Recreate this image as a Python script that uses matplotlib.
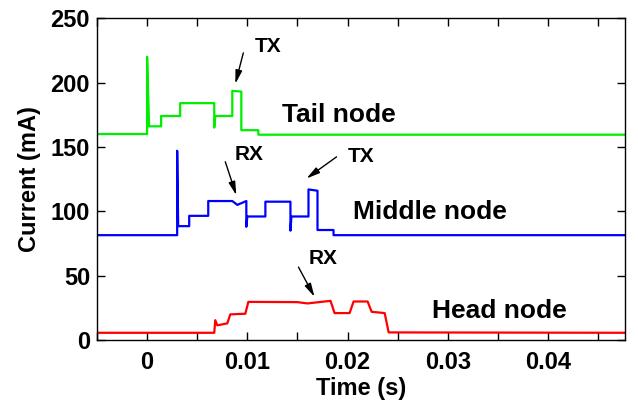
import numpy as np
import matplotlib.pyplot as plt
from matplotlib.ticker import MultipleLocator, FuncFormatter

# values (time in s, current in mA)
tail_t = [-0.005, 0.0, 0.0, 0.0002, 0.0014, 0.0014, 0.0033, 0.0033, 0.0067, 0.0067, 0.0068,
          0.0085, 0.0085, 0.0094, 0.0094, 0.0111, 0.0111, 0.048]
tail_i = [160, 160, 220, 166, 166, 174, 174, 184, 184, 165, 174,
          174, 193.5, 193, 163, 163, 159.5, 159.5]

mid_t = [-0.005, 0.0030, 0.0030, 0.0031, 0.0042, 0.0042, 0.0061, 0.0061, 0.0085, 0.0090, 0.0099,
         0.0099, 0.0100, 0.0118, 0.0118, 0.0143, 0.0143, 0.0144, 0.0161, 0.0161, 0.0170, 0.0170,
         0.0186, 0.0186, 0.048]
mid_i = [81.5, 81.5, 147, 88.5, 88.5, 96.5, 96.5, 108, 108, 105, 108,
         88, 96, 96, 107.5, 107.5, 85, 96, 96, 117, 116, 85.5,
         85.5, 81.5, 81.5]

head_t = [-0.005, 0.0067, 0.0068, 0.0070, 0.0080, 0.0083, 0.0098, 0.0101, 0.0150, 0.0160, 0.0183,
          0.0187, 0.0202, 0.0206, 0.0220, 0.0224, 0.0237, 0.0241, 0.048]
head_i = [5.7, 5.7, 15.5, 11.5, 13, 20, 20.5, 29.7, 29.5, 28.5, 30.5,
          21, 21, 30, 30, 22, 21, 6, 5.7]

# annotation labels: (text, text pos, arrow tail, arrow tip)
marks = [('TX', (0.01205, 228), (0.0096, 223), (0.0088, 199)),
         ('RX', (0.0102, 144.5), (0.0078, 138.5), (0.0089, 112.5)),
         ('TX', (0.0213, 142.5), (0.0189, 142.3), (0.0159, 125.5)),
         ('RX', (0.0176, 63.5), (0.0151, 56.7), (0.0167, 33.6))]
nodes = [('Tail node', 0.0135, 174.5), ('Middle node', 0.0205, 99.5), ('Head node', 0.0284, 22.5)]

plt.rcParams['font.family'] = ['Liberation Sans', 'DejaVu Sans']
plt.rcParams['font.weight'] = 'bold'

fig = plt.figure(figsize=(6.38, 4.03), dpi=100)
ax = fig.add_axes([0.152, 0.156, 0.828, 0.799])

ax.plot(tail_t, tail_i, color='#00ee00', lw=1.6)
ax.plot(mid_t, mid_i, color='#0000ff', lw=1.6)
ax.plot(head_t, head_i, color='#ff0000', lw=1.6)

ax.set_xlim(-0.005, 0.0477)
ax.set_ylim(0, 250)
ax.xaxis.set_major_locator(MultipleLocator(0.005))
ax.xaxis.set_major_formatter(FuncFormatter(
    lambda v, p: ('0' if abs(v) < 1e-9 else '%g' % round(v, 3)) if abs(round(v / 0.01) - v / 0.01) < 1e-6 else ''))
ax.yaxis.set_major_locator(MultipleLocator(50))
ax.tick_params(direction='in', length=6, width=1, top=True, right=True, labelsize=17)
ax.tick_params(axis='x', pad=8)
ax.tick_params(axis='y', pad=5)
for lbl in ax.get_xticklabels() + ax.get_yticklabels():
    lbl.set_fontweight('bold')
for s in ax.spines.values():
    s.set_linewidth(1)

ax.set_xlabel('Time (s)', fontsize=17, fontweight='bold', labelpad=2)
ax.set_ylabel('Current (mA)', fontsize=17, fontweight='bold', labelpad=7)

arrow = dict(arrowstyle='-|>,head_length=0.8,head_width=0.2', color='k', lw=1, shrinkA=0, shrinkB=0)
for txt, pos, tail, tip in marks:
    ax.text(pos[0], pos[1], txt, fontsize=15, fontweight='bold', ha='center', va='center')
    ax.annotate('', xy=tip, xytext=tail, arrowprops=arrow)

for txt, x, y in nodes:
    ax.text(x, y, txt, fontsize=19, fontweight='bold', va='center')

plt.savefig('out.png')
